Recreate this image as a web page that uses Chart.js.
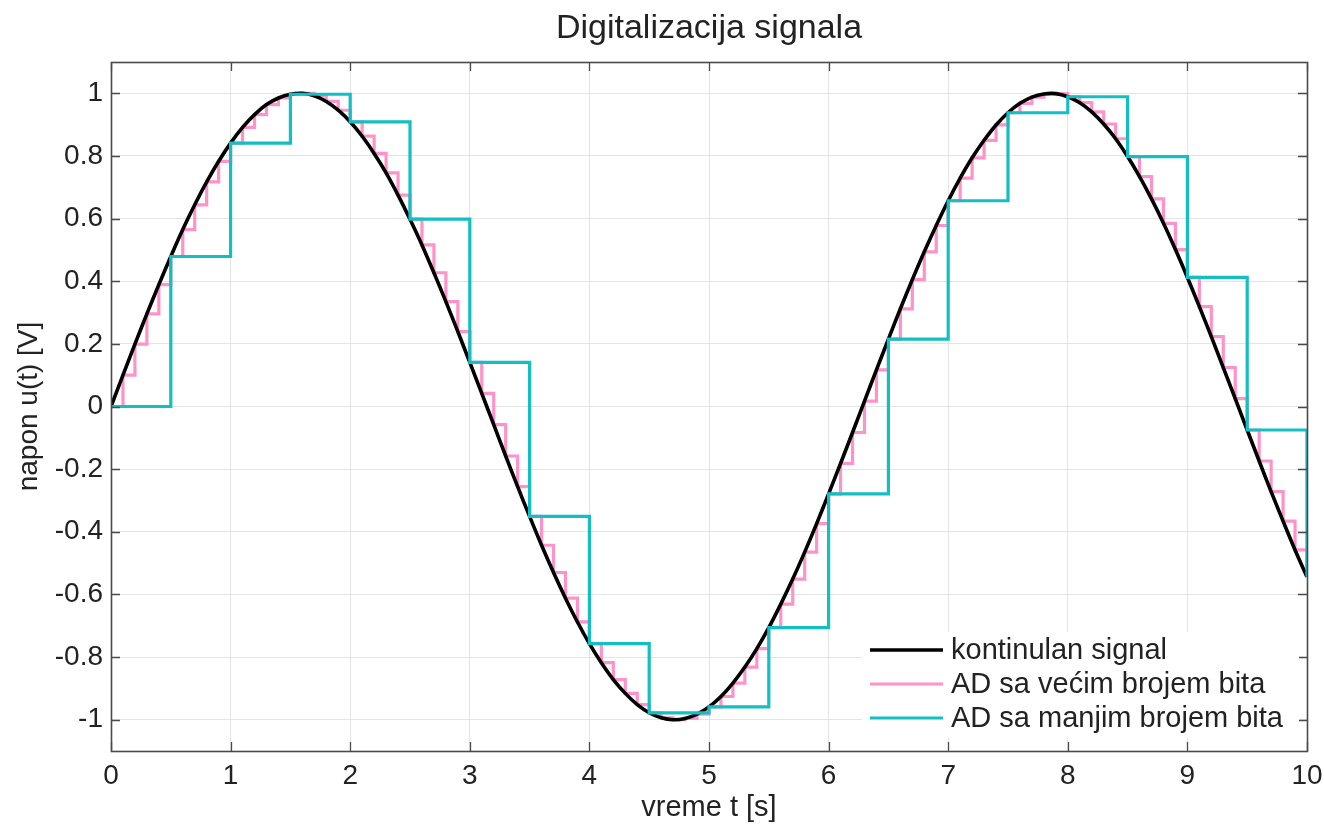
<!DOCTYPE html>
<html>
<head>
<meta charset="utf-8">
<script src="https://cdn.jsdelivr.net/npm/chart.js@4/dist/chart.umd.min.js"></script>
<style>
html,body{margin:0;padding:0;background:#fff;}
#wrap{width:1324px;height:825px;}
</style>
</head>
<body>
<div id="wrap"><canvas id="c" width="1324" height="825"></canvas></div>
<script>
// time samples (fine, 0.1 s) and signal values
const tFine = [0,0.1,0.2,0.3,0.4,0.5,0.6,0.7,0.8,0.9,1,1.1,1.2,1.3,1.4,1.5,1.6,1.7,1.8,1.9,2,2.1,2.2,2.3,2.4,2.5,2.6,2.7,2.8,2.9,3,3.1,3.2,3.3,3.4,3.5,3.6,3.7,3.8,3.9,4,4.1,4.2,4.3,4.4,4.5,4.6,4.7,4.8,4.9,5,5.1,5.2,5.3,5.4,5.5,5.6,5.7,5.8,5.9,6,6.1,6.2,6.3,6.4,6.5,6.6,6.7,6.8,6.9,7,7.1,7.2,7.3,7.4,7.5,7.6,7.7,7.8,7.9,8,8.1,8.2,8.3,8.4,8.5,8.6,8.7,8.8,8.9,9,9.1,9.2,9.3,9.4,9.5,9.6,9.7,9.8,9.9,10];
const continuous = [0,0.100,0.199,0.296,0.389,0.479,0.565,0.644,0.717,0.783,0.841,0.891,0.932,0.964,0.985,0.997,1.000,0.992,0.974,0.946,0.909,0.863,0.808,0.746,0.675,0.598,0.516,0.427,0.335,0.239,0.141,0.042,-0.058,-0.158,-0.256,-0.351,-0.443,-0.530,-0.612,-0.688,-0.757,-0.818,-0.872,-0.916,-0.952,-0.978,-0.994,-1.000,-0.996,-0.982,-0.959,-0.926,-0.883,-0.832,-0.773,-0.706,-0.631,-0.551,-0.465,-0.374,-0.279,-0.182,-0.083,0.017,0.117,0.215,0.312,0.405,0.494,0.578,0.657,0.729,0.794,0.850,0.899,0.938,0.968,0.988,0.998,0.999,0.989,0.970,0.941,0.902,0.855,0.798,0.734,0.663,0.585,0.501,0.412,0.319,0.223,0.124,0.025,-0.075,-0.174,-0.272,-0.366,-0.458,-0.544];
const adMore = [0,0.100,0.199,0.296,0.389,0.479,0.565,0.644,0.717,0.783,0.841,0.891,0.932,0.964,0.985,0.997,1.000,0.992,0.974,0.946,0.909,0.863,0.808,0.746,0.675,0.598,0.516,0.427,0.335,0.239,0.141,0.042,-0.058,-0.158,-0.256,-0.351,-0.443,-0.530,-0.612,-0.688,-0.757,-0.818,-0.872,-0.916,-0.952,-0.978,-0.994,-1.000,-0.996,-0.982,-0.959,-0.926,-0.883,-0.832,-0.773,-0.706,-0.631,-0.551,-0.465,-0.374,-0.279,-0.182,-0.083,0.017,0.117,0.215,0.312,0.405,0.494,0.578,0.657,0.729,0.794,0.850,0.899,0.938,0.968,0.988,0.998,0.999,0.989,0.970,0.941,0.902,0.855,0.798,0.734,0.663,0.585,0.501,0.412,0.319,0.223,0.124,0.025,-0.075,-0.174,-0.272,-0.366,-0.458,-0.544];
// coarse samples (0.5 s)
const tCoarse = [0,0.5,1,1.5,2,2.5,3,3.5,4,4.5,5,5.5,6,6.5,7,7.5,8,8.5,9,9.5,10];
const adLess = [0,0.479,0.841,0.997,0.909,0.598,0.141,-0.351,-0.757,-0.978,-0.959,-0.706,-0.279,0.215,0.657,0.938,0.989,0.798,0.412,-0.075,-0.544];

const seriesNames = ['kontinulan signal','AD sa većim brojem bita','AD sa manjim brojem bita'];
const xTicks = [0,1,2,3,4,5,6,7,8,9,10];
const yTicks = [-1,-0.8,-0.6,-0.4,-0.2,0,0.2,0.4,0.6,0.8,1];
const yTickLabels = ['-1','-0.8','-0.6','-0.4','-0.2','0','0.2','0.4','0.6','0.8','1'];

const FONT = "'Liberation Sans', Arial, sans-serif";
const TXT = '#222';

const pts = (xs, ys) => xs.map((x, i) => ({x: x, y: ys[i]}));

const frame = {
  id: 'frame',
  afterDatasetsDraw(chart) {
    const ctx = chart.ctx, a = chart.chartArea;
    const xs = chart.scales.x, ys = chart.scales.y;
    ctx.save();
    ctx.strokeStyle = '#4a4a4a';
    ctx.lineWidth = 1.3;
    ctx.beginPath();
    const L = 9;
    xTicks.forEach(v => {
      const px = Math.round(xs.getPixelForValue(v)) + 0.5;
      ctx.moveTo(px, a.bottom); ctx.lineTo(px, a.bottom - L);
      ctx.moveTo(px, a.top); ctx.lineTo(px, a.top + L);
    });
    yTicks.forEach(v => {
      const py = Math.round(ys.getPixelForValue(v)) + 0.5;
      ctx.moveTo(a.left, py); ctx.lineTo(a.left + L, py);
      ctx.moveTo(a.right, py); ctx.lineTo(a.right - L, py);
    });
    ctx.stroke();
    ctx.lineWidth = 1.6;
    ctx.strokeRect(Math.round(a.left) + 0.5, Math.round(a.top) + 0.5, Math.round(a.right - a.left), Math.round(a.bottom - a.top));

    // legend (inside, bottom right)
    const lx = 862, ly = 632, lw = 437, lh = 106;
    ctx.fillStyle = '#fff';
    ctx.fillRect(lx, ly, lw, lh);
    const rows = [650, 684, 718];
    ctx.font = '29px ' + FONT;
    ctx.textBaseline = 'middle';
    ctx.textAlign = 'left';
    chart.data.datasets.slice().sort((p, q) => p.legendIndex - q.legendIndex).forEach((ds, i) => {
      ctx.strokeStyle = ds.borderColor;
      ctx.lineWidth = ds.borderWidth;
      ctx.setLineDash([]);
      ctx.beginPath();
      ctx.moveTo(870, rows[i]); ctx.lineTo(943, rows[i]);
      ctx.stroke();
      ctx.fillStyle = TXT;
      ctx.fillText(ds.label, 951, rows[i] + 1);
    });
    ctx.restore();
  }
};

new Chart(document.getElementById('c'), {
  type: 'line',
  data: {
    datasets: [
      {label: seriesNames[2], legendIndex: 2, data: pts(tCoarse, adLess), borderColor: '#14bfc3', borderWidth: 3.2, stepped: 'before', pointRadius: 0, order: 0},
      {label: seriesNames[0], legendIndex: 0, data: pts(tFine, continuous), borderColor: '#000000', borderWidth: 3.6, tension: 0.3, pointRadius: 0, order: 1},
      {label: seriesNames[1], legendIndex: 1, data: pts(tFine, adMore), borderColor: '#ff93c9', borderWidth: 3.2, stepped: 'before', pointRadius: 0, order: 2}
    ]
  },
  options: {
    responsive: false,
    animation: false,
    devicePixelRatio: 1,
    layout: {padding: {left: 0, right: 17, top: 0, bottom: 0}},
    plugins: {
      legend: {display: false},
      tooltip: {enabled: false},
      title: {
        display: true,
        text: 'Digitalizacija signala',
        fullSize: false,
        color: TXT,
        font: {family: FONT, size: 34, weight: 'normal'},
        padding: {top: 8, bottom: 13.2}
      }
    },
    scales: {
      x: {
        type: 'linear', min: 0, max: 10,
        afterBuildTicks: s => { s.ticks = xTicks.map(v => ({value: v})); },
        afterFit: s => { s.height = 74; s.paddingLeft = 0; s.paddingRight = 0; },
        ticks: {color: TXT, font: {family: FONT, size: 28}, padding: 8, maxRotation: 0,
                callback: v => String(v)},
        grid: {color: '#e4e4e4', lineWidth: 1, drawTicks: false},
        border: {display: false},
        title: {display: true, text: 'vreme t [s]', color: TXT, font: {family: FONT, size: 29}, padding: {top: 0, bottom: 0}}
      },
      y: {
        type: 'linear', min: -1.1, max: 1.1,
        afterBuildTicks: s => { s.ticks = yTicks.map(v => ({value: v})); },
        afterFit: s => { s.width = 111; s.paddingTop = 0; s.paddingBottom = 0; },
        ticks: {color: TXT, font: {family: FONT, size: 28}, padding: 8,
                callback: v => yTickLabels[yTicks.findIndex(t => Math.abs(t - v) < 1e-9)]},
        grid: {color: '#e4e4e4', lineWidth: 1, drawTicks: false},
        border: {display: false},
        title: {display: true, text: 'napon u(t) [V]', color: TXT, font: {family: FONT, size: 28}, padding: {top: 12, bottom: 0}}
      }
    }
  },
  plugins: [frame]
});
</script>
</body>
</html>
